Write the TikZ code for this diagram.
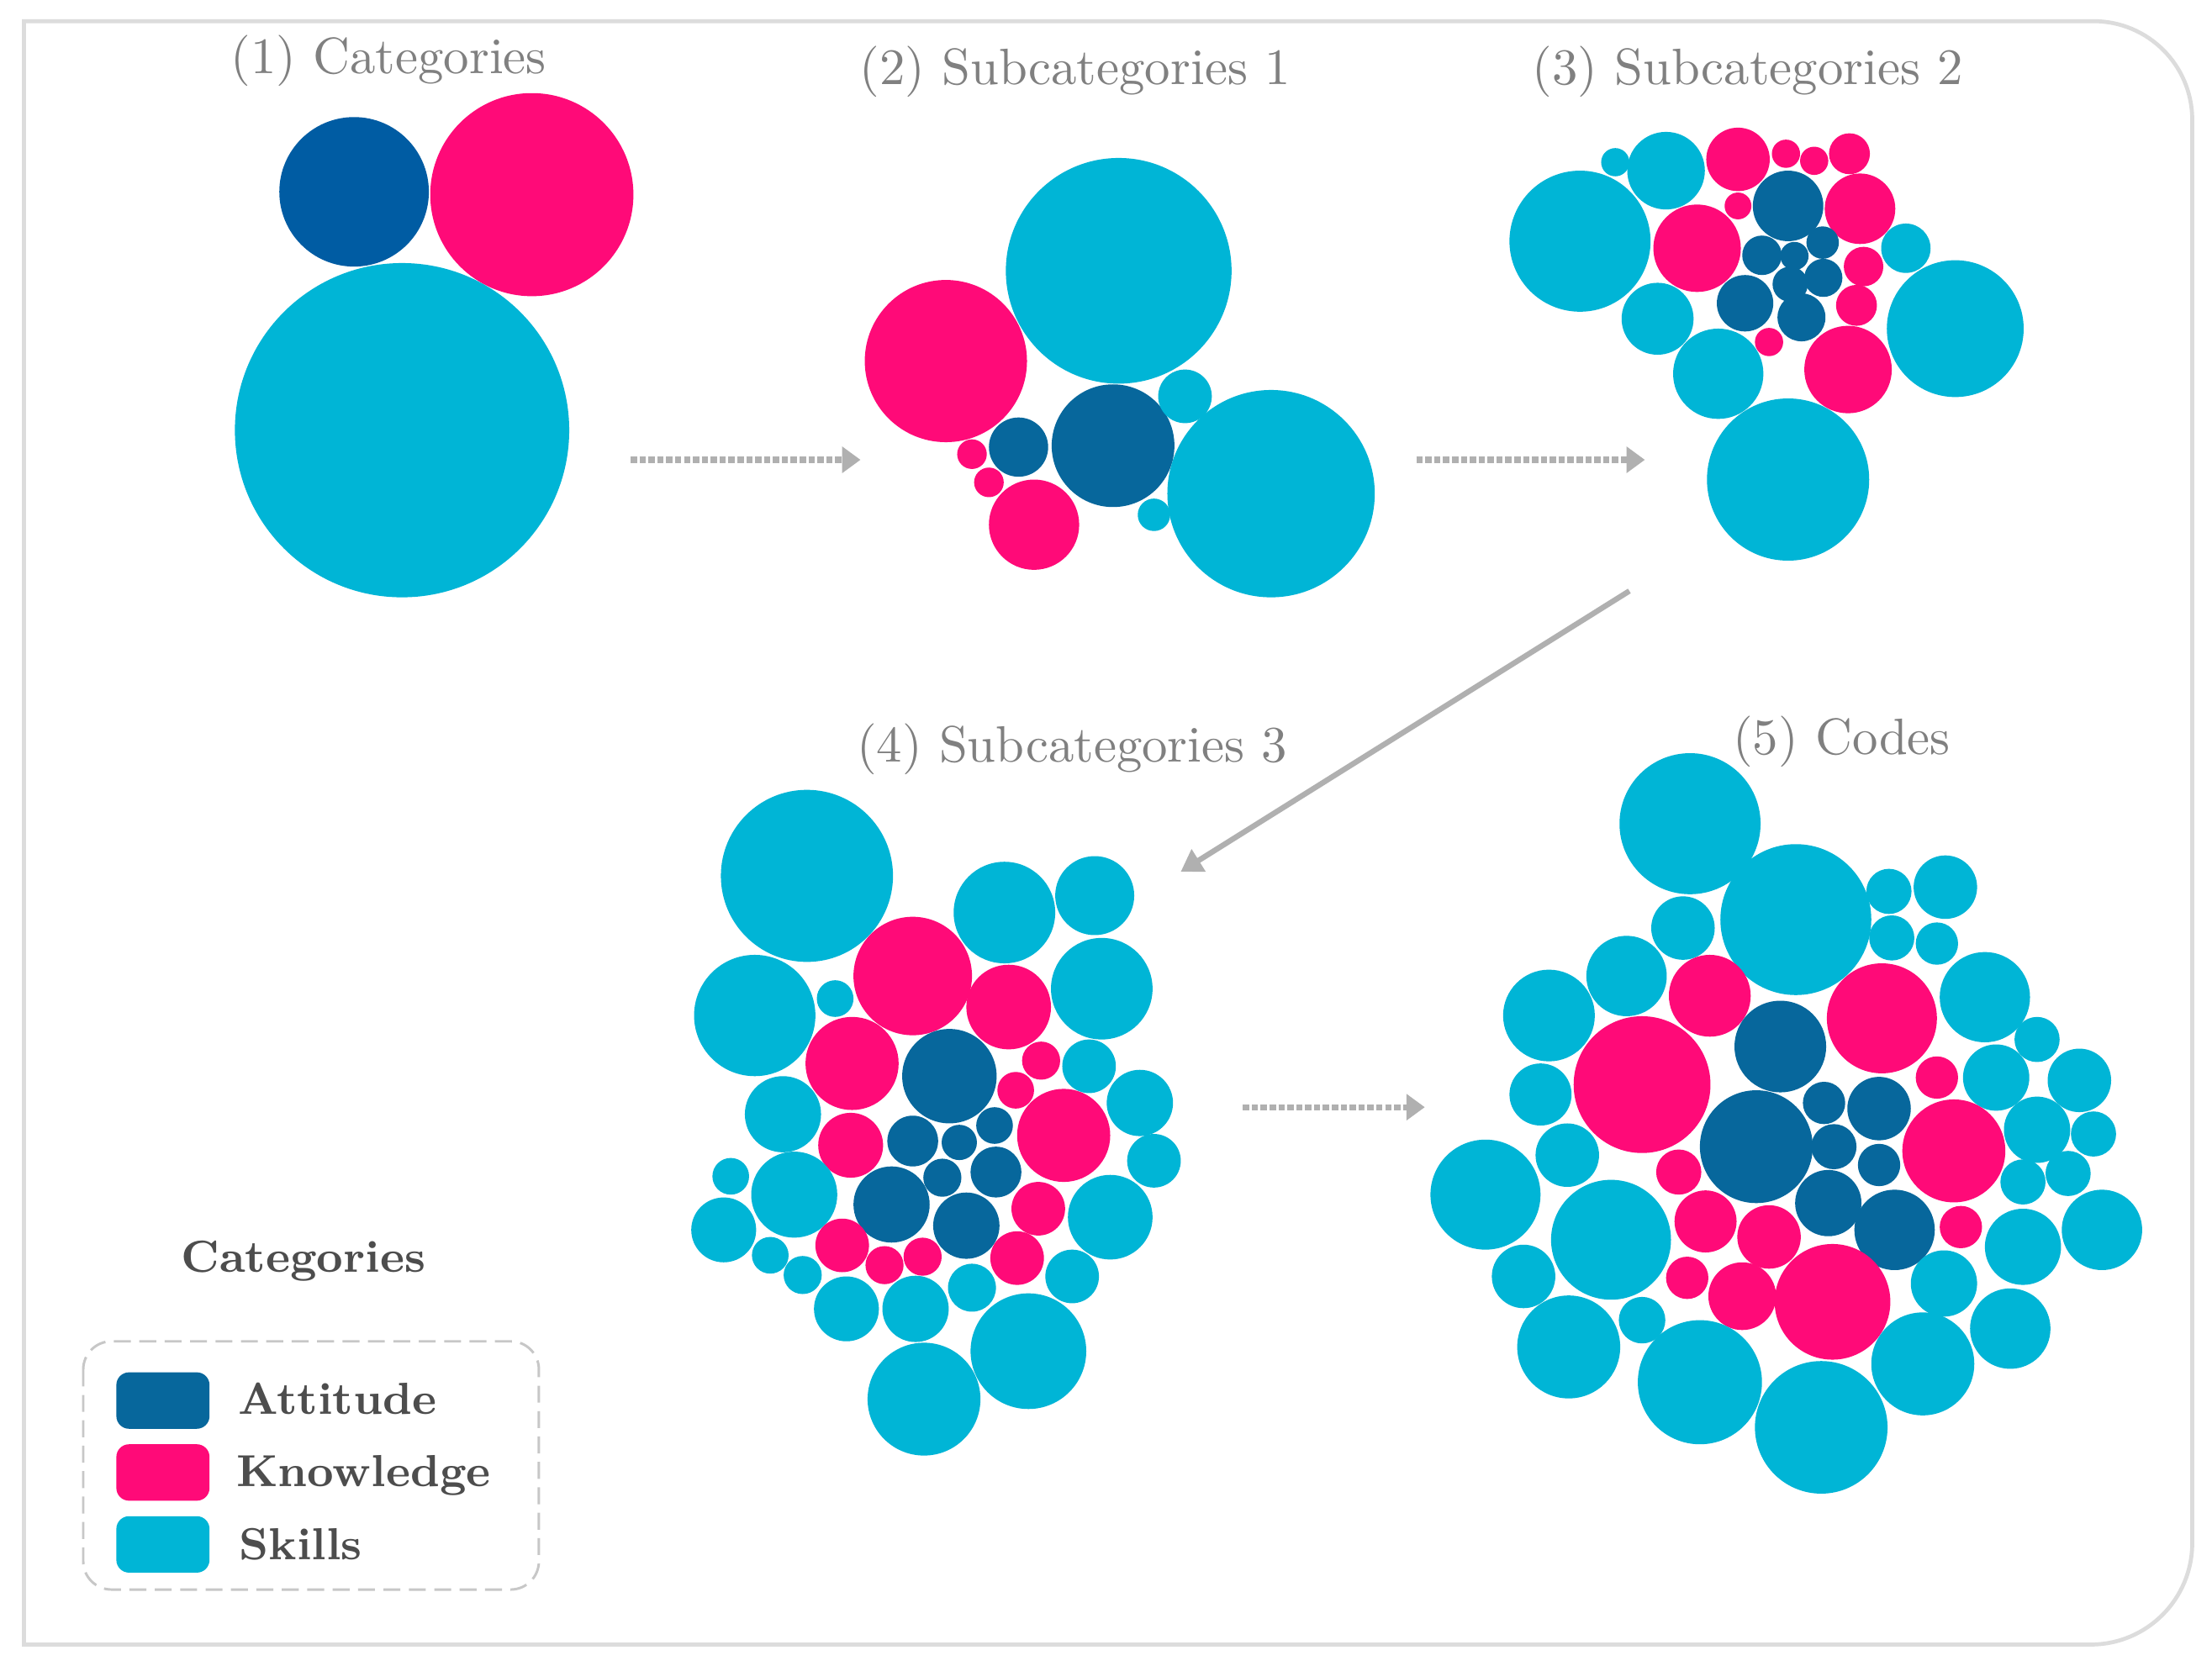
\documentclass[tikz,border=0pt]{standalone}
\usetikzlibrary{arrows.meta}
\definecolor{att}{HTML}{07679C}
\definecolor{attA}{HTML}{005CA3}
\definecolor{kno}{HTML}{FF0A78}
\definecolor{ski}{HTML}{00B5D6}
\definecolor{ttl}{HTML}{808080}
\definecolor{lgt}{HTML}{4D4D4D}
\definecolor{arr}{HTML}{B0B0B0}
\definecolor{frm}{HTML}{DCDCDC}
\newcommand\bub[4]{\fill[#1] (#2,#3) circle[radius=#4];}
\tikzset{
  title/.style={anchor=base, inner sep=0pt, text=ttl, font=\fontsize{10.3}{12}\selectfont},
  legtitle/.style={anchor=base, inner sep=0pt, text=lgt, font=\fontsize{9.05}{11}\selectfont\bfseries},
  legtext/.style={anchor=base west, inner sep=0pt, text=lgt, font=\fontsize{9.05}{11}\selectfont\bfseries},
  swatch/.style={minimum width=0.66cm, minimum height=0.40cm, inner sep=0pt, rounded corners=0.09cm, draw=none},
  flowarrow/.style={draw=arr, line width=1.2pt, dash pattern=on 0.045cm off 0.018cm, -{Triangle[length=0.13cm,width=0.18cm]}},
  solidarrow/.style={draw=arr, line width=1.1pt, -{Triangle[length=0.15cm,width=0.18cm]}},
  frame/.style={draw=frm, line width=0.8pt},
  legbox/.style={draw=black!22, line width=0.5pt, dash pattern=on 0.12cm off 0.06cm, rounded corners=0.2cm}
}
\begin{document}
\begin{tikzpicture}[x=0.01cm, y=-0.01cm]
\fill[white] (0,0) rectangle (1568,1181);
\useasboundingbox (0,0) rectangle (1568,1181);
% frame
\draw[frame] (17,1166) -- (17,15) -- (1484,15) .. controls (1522.7,15) and (1554,46.3) .. (1554,85)
  -- (1554,1094) .. controls (1554,1133.8) and (1521.8,1166) .. (1482,1166) -- cycle;

% titles
\node[title] (t1) at (275.5,52) {(1) Categories};
\node[title] (t2) at (762,60) {(2) Subcategories 1};
\node[title] (t3) at (1239,60) {(3) Subcategories 2};
\node[title] (t4) at (760,540) {(4) Subcategories 3};
\node[title] (t5) at (1305.5,535) {(5) Codes};

% cluster 1
\bub{attA}{251}{136}{53}
\bub{kno}{377}{138}{72}
\bub{ski}{285}{305}{118.5}

% cluster 2
\bub{ski}{793}{192}{80}
\bub{kno}{670.5}{256}{57.5}
\bub{att}{789}{316}{43.5}
\bub{att}{722}{317}{21}
\bub{ski}{840}{281}{19}
\bub{ski}{818}{365}{11.5}
\bub{ski}{901}{350}{73.5}
\bub{kno}{733}{372}{32}
\bub{kno}{689}{322}{10.5}
\bub{kno}{701}{342}{10.5}

% cluster 3
\bub{ski}{1120}{171}{50}
\bub{ski}{1181}{121}{27.5}
\bub{ski}{1145}{115}{10}
\bub{kno}{1232}{113}{22.5}
\bub{kno}{1266}{109}{10}
\bub{kno}{1286}{114}{10}
\bub{kno}{1311}{109}{14.5}
\bub{att}{1267.5}{146}{25}
\bub{kno}{1318.5}{148}{25}
\bub{kno}{1203}{176}{31}
\bub{kno}{1232}{146}{9.5}
\bub{att}{1249}{181}{14}
\bub{att}{1272}{181.5}{10}
\bub{att}{1292}{172}{11.5}
\bub{att}{1292.5}{197}{13.5}
\bub{att}{1269}{201.5}{12.5}
\bub{att}{1237}{215}{20}
\bub{att}{1277}{225}{17}
\bub{kno}{1321}{189}{14}
\bub{kno}{1316}{216.5}{14.5}
\bub{kno}{1254}{242.5}{10}
\bub{kno}{1310}{262}{31}
\bub{ski}{1351}{176}{17.5}
\bub{ski}{1175}{226}{25.5}
\bub{ski}{1218}{265}{32}
\bub{ski}{1386}{233}{48.5}
\bub{ski}{1267.5}{340}{57.5}

% cluster 4
\bub{ski}{572}{621}{61}
\bub{ski}{712}{647}{36}
\bub{ski}{776}{635}{28}
\bub{ski}{535}{720}{43}
\bub{ski}{592}{708}{13}
\bub{kno}{647}{692}{42}
\bub{kno}{715}{714}{30}
\bub{ski}{781}{701}{36}
\bub{kno}{604}{754}{33}
\bub{att}{673}{763}{33.5}
\bub{kno}{738}{752}{13.5}
\bub{kno}{720}{773}{13}
\bub{ski}{772}{756}{19}
\bub{ski}{808}{782}{23.5}
\bub{ski}{555}{790}{27}
\bub{kno}{603}{812}{23}
\bub{att}{647}{809}{18}
\bub{att}{680}{810}{12.5}
\bub{att}{705}{798}{13}
\bub{kno}{754}{805}{33}
\bub{ski}{818}{823}{19}
\bub{att}{668}{835}{13.5}
\bub{att}{706}{831}{18}
\bub{ski}{518}{834}{13}
\bub{ski}{563}{847}{30.5}
\bub{att}{632}{854}{27}
\bub{att}{685}{869}{23.5}
\bub{kno}{736}{857}{19}
\bub{ski}{787}{863}{30}
\bub{ski}{513}{872}{23}
\bub{ski}{546}{890}{13}
\bub{ski}{569}{904}{13.5}
\bub{kno}{597}{883}{19}
\bub{kno}{627}{897}{13.5}
\bub{kno}{654}{891}{13.5}
\bub{kno}{721}{892}{19}
\bub{ski}{760}{905}{19}
\bub{ski}{600}{928}{23}
\bub{ski}{649}{928}{23.5}
\bub{ski}{689}{913}{17}
\bub{ski}{729}{958}{41}
\bub{ski}{655}{992}{40}

% cluster 5
\bub{ski}{1198}{584}{50}
\bub{ski}{1273}{652}{53.5}
\bub{ski}{1339}{632}{16}
\bub{ski}{1379}{629}{22.5}
\bub{ski}{1341}{665}{16}
\bub{ski}{1373}{669}{15}
\bub{ski}{1193}{658}{22.5}
\bub{ski}{1153}{692}{28.5}
\bub{ski}{1098}{720}{32.5}
\bub{kno}{1212}{706}{29}
\bub{kno}{1164}{769}{48.5}
\bub{att}{1262}{742}{32.5}
\bub{kno}{1334}{722}{39}
\bub{ski}{1407}{707}{32}
\bub{ski}{1444}{737}{16}
\bub{ski}{1415}{764}{23.5}
\bub{ski}{1474}{766}{22.5}
\bub{kno}{1373}{764}{15}
\bub{ski}{1092}{776}{22}
\bub{att}{1293}{782}{15}
\bub{att}{1332}{786}{22.5}
\bub{att}{1245}{813}{40}
\bub{kno}{1385}{816}{36.5}
\bub{ski}{1444}{801}{23.5}
\bub{ski}{1484}{804}{16}
\bub{ski}{1111}{819}{22.5}
\bub{att}{1300}{813}{16}
\bub{att}{1332}{826}{15}
\bub{kno}{1190}{831}{16}
\bub{ski}{1434}{838}{16}
\bub{ski}{1466}{832}{16}
\bub{ski}{1053}{847}{39}
\bub{att}{1296}{853}{23.5}
\bub{att}{1343}{872}{28.5}
\bub{kno}{1390}{870}{15}
\bub{ski}{1434}{884}{27}
\bub{ski}{1490}{872}{28.5}
\bub{kno}{1209}{866}{22}
\bub{kno}{1254}{877}{22.5}
\bub{ski}{1142}{879}{42.5}
\bub{ski}{1080}{905}{22.5}
\bub{kno}{1196}{906}{15}
\bub{kno}{1235}{919}{24}
\bub{kno}{1299}{923}{41}
\bub{ski}{1378}{910}{23.5}
\bub{ski}{1425}{942}{28.5}
\bub{ski}{1164}{936}{16.5}
\bub{ski}{1112}{955}{36.5}
\bub{ski}{1205}{980}{44}
\bub{ski}{1291}{1012}{47}
\bub{ski}{1363}{967}{36.5}

% arrows
\coordinate (a1s) at (447,326);
\coordinate (a1e) at (610,326);
\coordinate (a2s) at (1004,326);
\coordinate (a2e) at (1166,326);
\coordinate (a3s) at (1155,419);
\coordinate (a3e) at (837,618);
\coordinate (a4s) at (881,785);
\coordinate (a4e) at (1010,785);
\draw[flowarrow] (a1s) -- (a1e);
\draw[flowarrow] (a2s) -- (a2e);
\draw[solidarrow] (a3s) -- (a3e);
\draw[flowarrow] (a4s) -- (a4e);

% legend
\node[legtitle] (lt) at (215,902) {Categories};
\draw[legbox] (59,951) rectangle (382,1127);
\node[swatch, fill=att] (sa) at (115.5,993) {};
\node[swatch, fill=kno] (sk) at (115.5,1044) {};
\node[swatch, fill=ski] (ss) at (115.5,1095) {};
\node[legtext] (la) at (168,1003) {Attitude};
\node[legtext] (lk) at (167,1054) {Knowledge};
\node[legtext] (ls) at (169,1106) {Skills};
\end{tikzpicture}
\end{document}
